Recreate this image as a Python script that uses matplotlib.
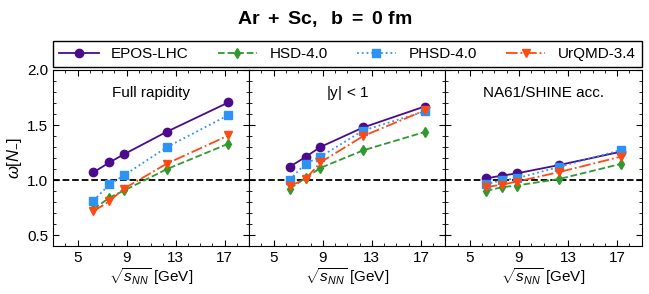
import matplotlib
matplotlib.use("Agg")
import matplotlib.pyplot as plt
from matplotlib.ticker import MultipleLocator

plt.rcParams['font.family'] = ['Liberation Sans', 'DejaVu Sans']
plt.rcParams['mathtext.fontset'] = 'custom'
plt.rcParams['mathtext.rm'] = 'Liberation Sans'
plt.rcParams['mathtext.it'] = 'Liberation Sans:italic'
plt.rcParams['mathtext.bf'] = 'Liberation Sans:bold'

energies = [6.3, 7.6, 8.8, 12.3, 17.3]
models = ["EPOS-LHC", "HSD-4.0", "PHSD-4.0", "UrQMD-3.4"]
panel_titles = ["Full rapidity", r"$|\mathrm{y}|\,<\,1$", "NA61/SHINE acc."]

full_epos = [1.07, 1.16, 1.235, 1.44, 1.705]
full_hsd = [0.735, 0.84, 0.905, 1.10, 1.33]
full_phsd = [0.813, 0.96, 1.043, 1.30, 1.59]
full_urqmd = [0.717, 0.808, 0.923, 1.15, 1.405]

y1_epos = [1.12, 1.21, 1.30, 1.478, 1.668]
y1_hsd = [0.92, 1.02, 1.11, 1.27, 1.436]
y1_phsd = [1.003, 1.15, 1.212, 1.45, 1.623]
y1_urqmd = [0.945, 1.01, 1.16, 1.40, 1.632]

na61_epos = [1.015, 1.04, 1.06, 1.137, 1.257]
na61_hsd = [0.90, 0.935, 0.95, 1.01, 1.146]
na61_phsd = [0.96, 0.998, 1.015, 1.12, 1.272]
na61_urqmd = [0.935, 0.958, 0.985, 1.073, 1.212]

panels = [
    [full_epos, full_hsd, full_phsd, full_urqmd],
    [y1_epos, y1_hsd, y1_phsd, y1_urqmd],
    [na61_epos, na61_hsd, na61_phsd, na61_urqmd],
]

colors = ["#4B0B8C", "#2E9A2E", "#2C93F5", "#FF4A12"]
styles = ["-", "--", ":", "-."]
markers = ["o", "d", "s", "v"]

fig, axes = plt.subplots(1, 3, figsize=(6.49, 2.94), dpi=100, sharey=True)
fig.subplots_adjust(left=0.0817, right=0.9886, top=0.762, bottom=0.163, wspace=0)

handles = []
for ax, data, title in zip(axes, panels, panel_titles):
    for vals, c, ls, m, lab in zip(data, colors, styles, markers, models):
        h, = ax.plot(energies, vals, color=c, ls=ls, marker=m, ms=6 if m != 'd' else 5.5,
                     lw=1.3, label=lab)
        if ax is axes[0]:
            handles.append(h)
    ax.axhline(1.0, color="black", ls="--", lw=1.3, zorder=0)
    ax.set_xlim(3, 19)
    ax.set_ylim(0.4, 2.0)
    ax.xaxis.set_major_locator(MultipleLocator(4))
    ax.xaxis.set_minor_locator(MultipleLocator(1))
    ax.set_xticks([5, 9, 13, 17])
    ax.yaxis.set_major_locator(MultipleLocator(0.5))
    ax.yaxis.set_minor_locator(MultipleLocator(0.1))
    ax.tick_params(which="both", direction="in", top=True, right=True, labelsize=11)
    ax.tick_params(which="major", length=4)
    ax.tick_params(which="minor", length=2)
    ax.set_xlabel(r"$\sqrt{s_{NN}}$ [GeV]", fontsize=11, labelpad=1)
    ax.text(0.5, 0.87, title, transform=ax.transAxes, ha="center", va="center", fontsize=11)

axes[0].set_yticks([0.5, 1.0, 1.5, 2.0])
axes[0].set_ylabel(r"$\omega[N_{-}]$", fontsize=12, labelpad=2)

fig.legend(handles=handles, loc="lower left", bbox_to_anchor=(0.0817, 0.772, 0.907, 0.09),
           mode="expand", ncol=4, fontsize=11, frameon=True, fancybox=False,
           edgecolor="black", framealpha=1, borderaxespad=0, handlelength=2.6)
fig.suptitle(r"$\mathbf{Ar\ +\ Sc,\ \ b\ =\ 0\ fm}$", fontsize=14, y=0.97)

fig.savefig("out.png", dpi=100)
